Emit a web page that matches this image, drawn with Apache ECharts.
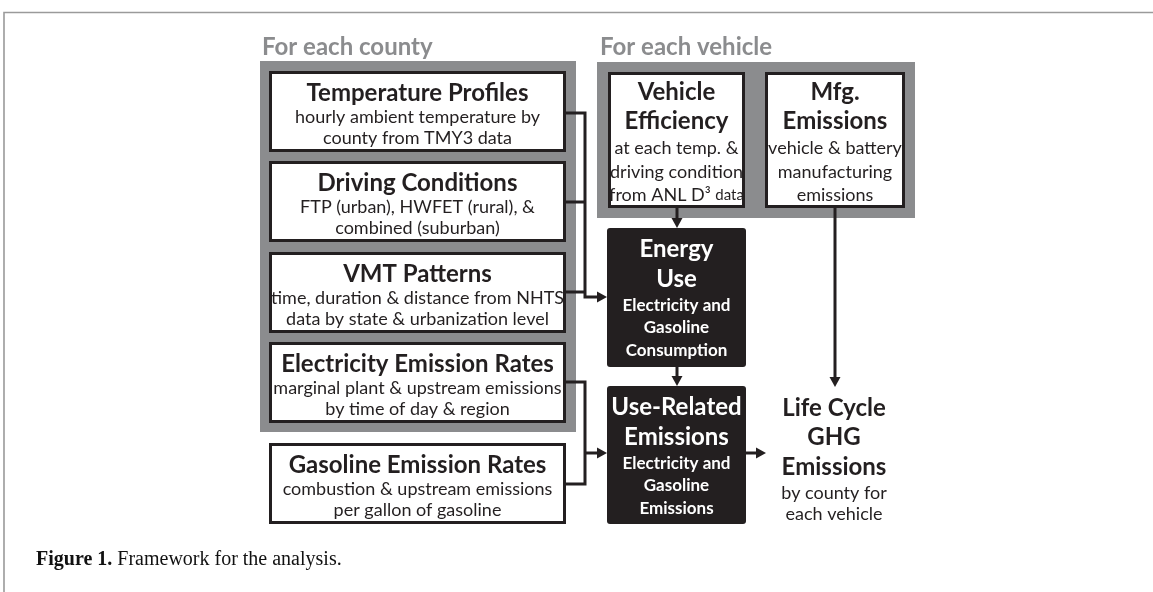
<!DOCTYPE html>
<html><head><meta charset="utf-8">
<script src="https://cdn.jsdelivr.net/npm/echarts@6/dist/echarts.min.js"></script>
<style>html,body{margin:0;padding:0;background:#fff}#c{width:1153px;height:592px}</style>
</head><body><div id="c"></div>
<script>
// ---- content ----
const groupLabels = ['For each county', 'For each vehicle'];
const inputTitles = ['Temperature Profiles', 'Driving Conditions', 'VMT Patterns', 'Electricity Emission Rates', 'Gasoline Emission Rates'];
const inputNotes = [
  ['hourly ambient temperature by', 'county from TMY3 data'],
  ['FTP (urban), HWFET (rural), &', 'combined (suburban)'],
  ['time, duration & distance from NHTS', 'data by state & urbanization level'],
  ['marginal plant & upstream emissions', 'by time of day & region'],
  ['combustion & upstream emissions', 'per gallon of gasoline']
];
const vehicleTitles = [['Vehicle', 'Efficiency'], ['Mfg.', 'Emissions']];
const vehicleNotes = [['at each temp. &', 'driving condition', '{n|from ANL D³} {s|data}'], ['vehicle & battery', 'manufacturing', 'emissions']];
const stageTitles = [['Energy', 'Use'], ['Use-Related', 'Emissions']];
const stageNotes = [['Electricity and', 'Gasoline', 'Consumption'], ['Electricity and', 'Gasoline', 'Emissions']];
const outputTitles = ['Life Cycle', 'GHG', 'Emissions'];
const outputNotes = ['by county for', 'each vehicle'];
const captionBold = 'Figure 1.';
const captionText = 'Framework for the analysis.';

// ---- layout (diagram coordinate space) ----
const W = 1153, H = 592;
const panels = [[260, 61, 576, 432], [597, 62, 915, 218]];
const groupLabelPos = [[262, 47], [600, 47]];
const inputX = [269, 566];
const inputTops = [71, 161, 252, 342, 443];
const inputH = 81;
const vehicleBoxes = [[608, 72, 745, 208], [765, 72, 905, 208]];
const vehicleLineY = [92, 121, 148, 172, 195];
const stageBoxes = [[607, 228, 746, 367], [607, 386, 746, 524]];
const stageLineOff = [21.5, 51, 77.5, 100, 123];
const outputX = 834;
const outputLineY = [408, 437, 467, 493, 514];
const connectors = [
  {pts: [[566, 113], [585, 113], [585, 297], [607, 297]], arrow: true},
  {pts: [[566, 202], [585, 202]], arrow: false},
  {pts: [[566, 292], [585, 292]], arrow: false},
  {pts: [[566, 382], [585, 382], [585, 484], [566, 484]], arrow: false},
  {pts: [[585, 453], [607, 453]], arrow: true},
  {pts: [[677, 208], [677, 228]], arrow: true},
  {pts: [[677, 367], [677, 386]], arrow: true},
  {pts: [[835, 208], [835, 387]], arrow: true},
  {pts: [[746, 453], [766, 453]], arrow: true}
];

const INK = '#231f20', GREY = '#8b8c8e';
const FF = 'Lato, "Open Sans", sans-serif';
const TITLE = 'bold 24px ' + FF, NOTE = '18px ' + FF, WNOTE = 'bold 17px ' + FF, GROUP = 'bold 24px ' + FF;
const NOTE_RICH = {n: {fontFamily: FF, fontSize: 18, color: INK}, s: {fontFamily: FF, fontSize: 15, color: INK}};

function txt(api, s, x, y, font, fill, align) {
  const p = api.coord([x, y]);
  const a = align || 'center';
  const style = {text: s, font: font, fill: fill, align: a, verticalAlign: 'middle', textAlign: a, textVerticalAlign: 'middle'};
  if (s.indexOf('{') === 0) style.rich = NOTE_RICH;
  return {type: 'text', x: p[0], y: p[1], style: style};
}
function box(api, b, fill, stroke, lw, r) {
  const p0 = api.coord([b[0], b[1]]), p1 = api.coord([b[2], b[3]]);
  const ins = stroke ? lw / 2 : 0;
  return {type: 'rect', shape: {x: p0[0] + ins, y: p0[1] + ins, width: p1[0] - p0[0] - 2 * ins, height: p1[1] - p0[1] - 2 * ins, r: r || 0},
    style: {fill: fill, stroke: stroke || null, lineWidth: lw || 0}};
}
function idx(arr) { return arr.map((_, i) => [i, 0]); }
const base = {type: 'custom', coordinateSystem: 'cartesian2d', silent: true, animation: false, clip: false};

const chart = echarts.init(document.getElementById('c'));
chart.setOption({
  animation: false,
  grid: {left: 0, right: 0, top: 0, bottom: 0},
  xAxis: {type: 'value', min: 0, max: W, show: false},
  yAxis: {type: 'value', min: 0, max: H, inverse: true, show: false},
  title: {
    left: 36, top: 550, padding: 0,
    text: '{b|' + captionBold + '} {n|' + captionText + '}',
    textStyle: {fontWeight: 'normal', rich: {
      b: {fontFamily: '"Liberation Serif", serif', fontWeight: 'bold', fontSize: 20, color: '#111'},
      n: {fontFamily: '"Liberation Serif", serif', fontWeight: 'normal', fontSize: 20, color: '#111'}
    }}
  },
  series: [
    Object.assign({}, base, {z: 1, data: [[0, 0]], renderItem: (p, api) => {
      const a = api.coord([4, H]), b = api.coord([4, 12.5]), c = api.coord([W, 12.5]);
      return {type: 'polyline', shape: {points: [a, b, c]}, style: {fill: null, stroke: '#9a9a9a', lineWidth: 1.6}};
    }}),
    Object.assign({}, base, {z: 2, data: idx(panels), renderItem: (p, api) => {
      const i = p.dataIndex;
      return {type: 'group', children: [
        box(api, panels[i], GREY),
        txt(api, groupLabels[i], groupLabelPos[i][0], groupLabelPos[i][1], GROUP, GREY, 'left')
      ]};
    }}),
    Object.assign({}, base, {z: 3, data: idx(inputTitles), renderItem: (p, api) => {
      const i = p.dataIndex, t = inputTops[i], cx = (inputX[0] + inputX[1]) / 2;
      const ch = [box(api, [inputX[0], t, inputX[1], t + inputH], '#fff', INK, 3),
        txt(api, inputTitles[i], cx, t + 22, TITLE, INK)];
      inputNotes[i].forEach((s, k) => ch.push(txt(api, s, cx, t + 46 + k * 21, NOTE, INK)));
      return {type: 'group', children: ch};
    }}),
    Object.assign({}, base, {z: 3, data: idx(vehicleTitles), renderItem: (p, api) => {
      const i = p.dataIndex, b = vehicleBoxes[i], cx = (b[0] + b[2]) / 2;
      const ch = [box(api, b, '#fff', INK, 3)];
      vehicleTitles[i].forEach((s, k) => ch.push(txt(api, s, cx, vehicleLineY[k], TITLE, INK)));
      vehicleNotes[i].forEach((s, k) => ch.push(txt(api, s, cx, vehicleLineY[k + 2], NOTE, INK)));
      return {type: 'group', children: ch};
    }}),
    Object.assign({}, base, {z: 3, data: idx(stageTitles), renderItem: (p, api) => {
      const i = p.dataIndex, b = stageBoxes[i], cx = (b[0] + b[2]) / 2;
      const ch = [box(api, b, INK, null, 0, 3)];
      stageTitles[i].forEach((s, k) => ch.push(txt(api, s, cx, b[1] + stageLineOff[k], TITLE, '#fff')));
      stageNotes[i].forEach((s, k) => ch.push(txt(api, s, cx, b[1] + stageLineOff[k + 2], WNOTE, '#fff')));
      return {type: 'group', children: ch};
    }}),
    Object.assign({}, base, {z: 3, data: [[0, 0]], renderItem: (p, api) => {
      const ch = [];
      outputTitles.forEach((s, k) => ch.push(txt(api, s, outputX, outputLineY[k], TITLE, INK)));
      outputNotes.forEach((s, k) => ch.push(txt(api, s, outputX, outputLineY[k + 3], NOTE, INK)));
      return {type: 'group', children: ch};
    }}),
    Object.assign({}, base, {z: 4, data: idx(connectors), renderItem: (p, api) => {
      const c = connectors[p.dataIndex];
      const pts = c.pts.map(q => api.coord(q));
      const ch = [];
      if (c.arrow) {
        const n = pts.length, e = pts[n - 1], s = pts[n - 2];
        const dx = e[0] - s[0], dy = e[1] - s[1], L = Math.hypot(dx, dy), ux = dx / L, uy = dy / L;
        const len = 10, hw = 5.5;
        const bx = e[0] - ux * len, by = e[1] - uy * len;
        const linePts = pts.slice(0, n - 1).concat([[bx + ux, by + uy]]);
        ch.push({type: 'polyline', shape: {points: linePts}, style: {fill: null, stroke: INK, lineWidth: 3}});
        ch.push({type: 'polygon', shape: {points: [e, [bx - uy * hw, by + ux * hw], [bx + uy * hw, by - ux * hw]]}, style: {fill: INK}});
      } else {
        ch.push({type: 'polyline', shape: {points: pts}, style: {fill: null, stroke: INK, lineWidth: 3}});
      }
      return {type: 'group', children: ch};
    }})
  ]
});
</script>
</body></html>
